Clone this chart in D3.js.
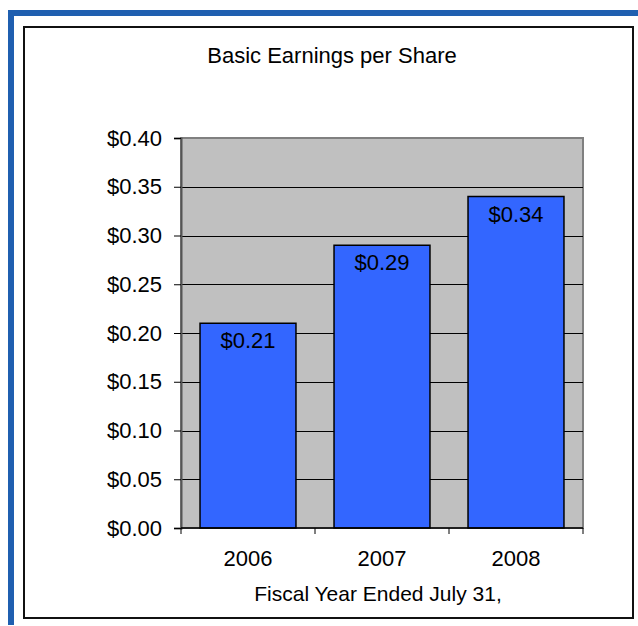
<!DOCTYPE html>
<html>
<head>
<meta charset="utf-8">
<script src="https://cdn.jsdelivr.net/npm/d3@7"></script>
<style>
  html, body { margin: 0; padding: 0; background: #fff; }
  svg { display: block; }
  text { font-family: "Liberation Sans", Arial, Helvetica, sans-serif; fill: #000; }
</style>
</head>
<body>
<script>
// Chart data
const years = ["2006", "2007", "2008"];
const eps = [0.21, 0.29, 0.34];
const yTicks = [0, 0.05, 0.10, 0.15, 0.20, 0.25, 0.30, 0.35, 0.40];
const titleText = "Basic Earnings per Share";
const xTitleText = "Fiscal Year Ended July 31,";

const W = 638, H = 626;
const FS = "22px";
const svg = d3.select("body").append("svg").attr("width", W).attr("height", H);

// Blue page frame (top and left bands)
svg.append("rect").attr("x", 8).attr("y", 10).attr("width", W - 8).attr("height", 6).attr("fill", "#1f5fb0");
svg.append("rect").attr("x", 8).attr("y", 10).attr("width", 6).attr("height", 615).attr("fill", "#1f5fb0");

// Chart panel border
svg.append("rect").attr("x", 24).attr("y", 27).attr("width", 609).attr("height", 591)
  .attr("fill", "#fff").attr("stroke", "#111").attr("stroke-width", 2);

const plot = { left: 181, right: 583, top: 138, bottom: 528 };

const x = d3.scaleBand().domain(years).range([plot.left, plot.right])
  .paddingInner(0.284).paddingOuter(0.142);
const y = d3.scaleLinear().domain([0, 0.4]).range([plot.bottom, plot.top]);

// Plot background
svg.append("rect").attr("x", plot.left).attr("y", plot.top)
  .attr("width", plot.right - plot.left).attr("height", plot.bottom - plot.top)
  .attr("fill", "#c0c0c0").attr("stroke", "#808080").attr("stroke-width", 2);

// Horizontal gridlines
svg.append("g").selectAll("line").data(yTicks.filter(v => v > 0 && v < 0.4)).join("line")
  .attr("x1", plot.left).attr("x2", plot.right)
  .attr("y1", d => Math.round(y(d)) + 0.5).attr("y2", d => Math.round(y(d)) + 0.5)
  .attr("stroke", "#000").attr("stroke-width", 1);

// Y axis
const yAxis = d3.axisLeft(y).tickValues(yTicks).tickSize(7).tickPadding(12)
  .tickFormat(d => "$" + d3.format(".2f")(d));
const gy = svg.append("g").attr("transform", `translate(${plot.left},0)`).call(yAxis);
gy.select(".domain").attr("stroke", "#555").attr("stroke-width", 2);
gy.selectAll(".tick line").attr("stroke", "#000");
gy.selectAll(".tick text").style("font-size", FS).style("font-family", "'Liberation Sans', Arial, sans-serif");

// Bars
svg.append("g").selectAll("rect").data(years).join("rect")
  .attr("x", d => x(d))
  .attr("y", (d, i) => y(eps[i]))
  .attr("width", x.bandwidth())
  .attr("height", (d, i) => y(0) - y(eps[i]))
  .attr("fill", "#3366ff").attr("stroke", "#000").attr("stroke-width", 1.5);

// Value labels inside bars
svg.append("g").selectAll("text").data(years).join("text")
  .attr("x", d => x(d) + x.bandwidth() / 2)
  .attr("y", (d, i) => y(eps[i]) + 25)
  .attr("text-anchor", "middle")
  .style("font-size", FS)
  .text((d, i) => "$" + d3.format(".2f")(eps[i]));

// X axis line with category boundary ticks
svg.append("line").attr("x1", plot.left).attr("x2", plot.right)
  .attr("y1", plot.bottom).attr("y2", plot.bottom)
  .attr("stroke", "#000").attr("stroke-width", 1.5);
const step = x.step();
const boundaries = d3.range(years.length + 1).map(i => plot.left + i * step);
svg.append("g").selectAll("line").data(boundaries).join("line")
  .attr("x1", d => d).attr("x2", d => d)
  .attr("y1", plot.bottom).attr("y2", plot.bottom + 6)
  .attr("stroke", "#000").attr("stroke-width", 1);

// Category labels
svg.append("g").selectAll("text").data(years).join("text")
  .attr("x", d => x(d) + x.bandwidth() / 2)
  .attr("y", 566)
  .attr("text-anchor", "middle")
  .style("font-size", FS)
  .text(d => d);

// Titles
svg.append("text").attr("x", 332).attr("y", 63).attr("text-anchor", "middle")
  .style("font-size", FS).text(titleText);
svg.append("text").attr("x", 378).attr("y", 601).attr("text-anchor", "middle")
  .style("font-size", "21px").text(xTitleText);
</script>
</body>
</html>
